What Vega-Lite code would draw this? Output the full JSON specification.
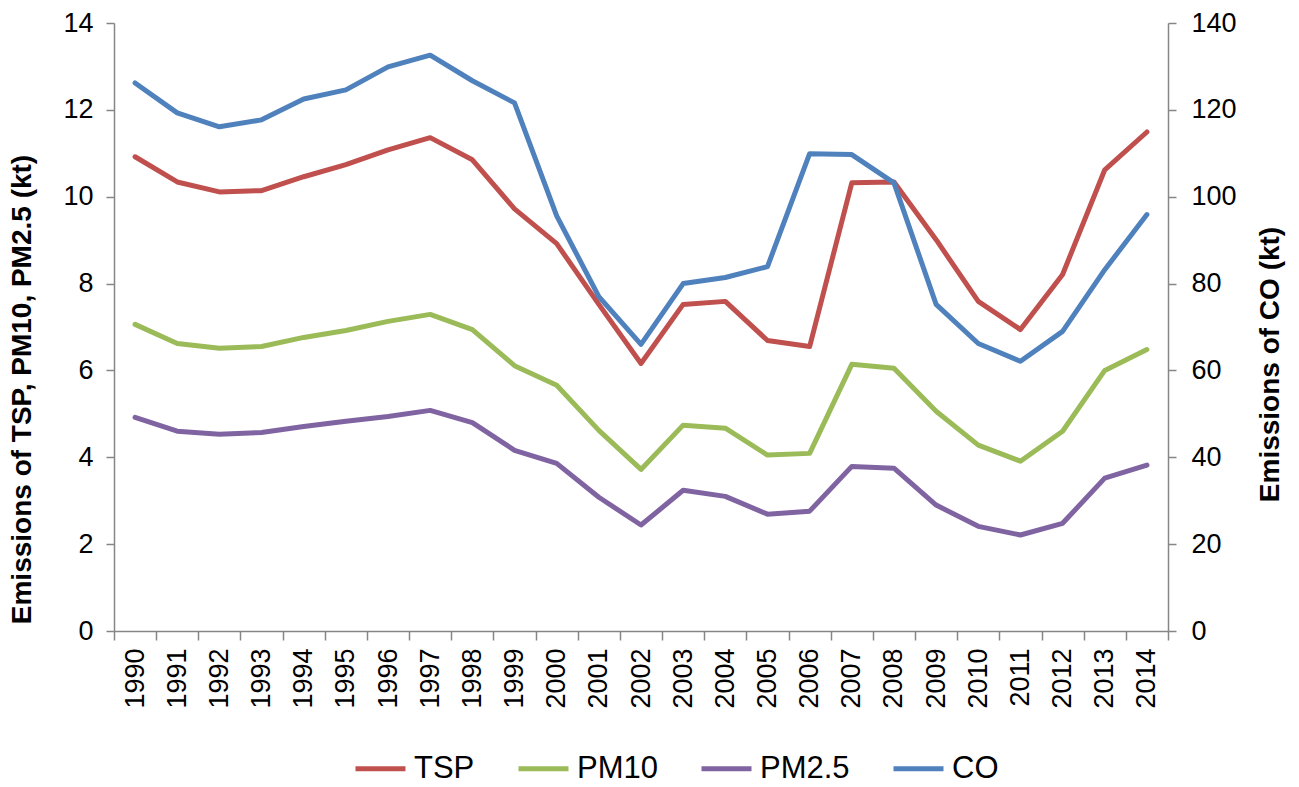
{
  "$schema": "https://vega.github.io/schema/vega-lite/v6.json",
  "width": 1054,
  "height": 608,
  "autosize": "none",
  "padding": {"left": 114, "top": 23, "right": 131, "bottom": 156},
  "config": {
    "font": "Liberation Sans",
    "view": {"stroke": null},
    "axis": {
      "domainColor": "#868686", "tickColor": "#868686", "domainWidth": 1.5, "tickWidth": 1.5,
      "labelColor": "#000000", "labelFont": "Liberation Sans", "labelFontSize": 27,
      "titleFont": "Liberation Sans", "titleFontSize": 28, "titleFontWeight": "bold", "titleColor": "#000000",
      "grid": false
    }
  },
  "data": {"values": [
    {"year":"1990","series":"TSP","value":10.92},{"year":"1991","series":"TSP","value":10.34},{"year":"1992","series":"TSP","value":10.11},{"year":"1993","series":"TSP","value":10.14},{"year":"1994","series":"TSP","value":10.46},{"year":"1995","series":"TSP","value":10.74},{"year":"1996","series":"TSP","value":11.08},{"year":"1997","series":"TSP","value":11.36},{"year":"1998","series":"TSP","value":10.85},{"year":"1999","series":"TSP","value":9.72},{"year":"2000","series":"TSP","value":8.92},{"year":"2001","series":"TSP","value":7.52},{"year":"2002","series":"TSP","value":6.16},{"year":"2003","series":"TSP","value":7.52},{"year":"2004","series":"TSP","value":7.59},{"year":"2005","series":"TSP","value":6.69},{"year":"2006","series":"TSP","value":6.55},{"year":"2007","series":"TSP","value":10.32},{"year":"2008","series":"TSP","value":10.34},{"year":"2009","series":"TSP","value":9.01},{"year":"2010","series":"TSP","value":7.59},{"year":"2011","series":"TSP","value":6.94},{"year":"2012","series":"TSP","value":8.21},{"year":"2013","series":"TSP","value":10.62},{"year":"2014","series":"TSP","value":11.49},
    {"year":"1990","series":"PM10","value":7.06},{"year":"1991","series":"PM10","value":6.62},{"year":"1992","series":"PM10","value":6.51},{"year":"1993","series":"PM10","value":6.55},{"year":"1994","series":"PM10","value":6.76},{"year":"1995","series":"PM10","value":6.92},{"year":"1996","series":"PM10","value":7.13},{"year":"1997","series":"PM10","value":7.29},{"year":"1998","series":"PM10","value":6.94},{"year":"1999","series":"PM10","value":6.11},{"year":"2000","series":"PM10","value":5.66},{"year":"2001","series":"PM10","value":4.62},{"year":"2002","series":"PM10","value":3.72},{"year":"2003","series":"PM10","value":4.74},{"year":"2004","series":"PM10","value":4.67},{"year":"2005","series":"PM10","value":4.05},{"year":"2006","series":"PM10","value":4.09},{"year":"2007","series":"PM10","value":6.14},{"year":"2008","series":"PM10","value":6.05},{"year":"2009","series":"PM10","value":5.06},{"year":"2010","series":"PM10","value":4.28},{"year":"2011","series":"PM10","value":3.91},{"year":"2012","series":"PM10","value":4.60},{"year":"2013","series":"PM10","value":6.00},{"year":"2014","series":"PM10","value":6.48},
    {"year":"1990","series":"PM2.5","value":4.92},{"year":"1991","series":"PM2.5","value":4.60},{"year":"1992","series":"PM2.5","value":4.53},{"year":"1993","series":"PM2.5","value":4.57},{"year":"1994","series":"PM2.5","value":4.71},{"year":"1995","series":"PM2.5","value":4.83},{"year":"1996","series":"PM2.5","value":4.94},{"year":"1997","series":"PM2.5","value":5.08},{"year":"1998","series":"PM2.5","value":4.80},{"year":"1999","series":"PM2.5","value":4.16},{"year":"2000","series":"PM2.5","value":3.86},{"year":"2001","series":"PM2.5","value":3.08},{"year":"2002","series":"PM2.5","value":2.44},{"year":"2003","series":"PM2.5","value":3.24},{"year":"2004","series":"PM2.5","value":3.10},{"year":"2005","series":"PM2.5","value":2.69},{"year":"2006","series":"PM2.5","value":2.76},{"year":"2007","series":"PM2.5","value":3.79},{"year":"2008","series":"PM2.5","value":3.75},{"year":"2009","series":"PM2.5","value":2.90},{"year":"2010","series":"PM2.5","value":2.41},{"year":"2011","series":"PM2.5","value":2.21},{"year":"2012","series":"PM2.5","value":2.48},{"year":"2013","series":"PM2.5","value":3.52},{"year":"2014","series":"PM2.5","value":3.82},
    {"year":"1990","series":"CO","value":126.2},{"year":"1991","series":"CO","value":119.3},{"year":"1992","series":"CO","value":116.1},{"year":"1993","series":"CO","value":117.7},{"year":"1994","series":"CO","value":122.5},{"year":"1995","series":"CO","value":124.6},{"year":"1996","series":"CO","value":129.9},{"year":"1997","series":"CO","value":132.6},{"year":"1998","series":"CO","value":126.7},{"year":"1999","series":"CO","value":121.6},{"year":"2000","series":"CO","value":95.6},{"year":"2001","series":"CO","value":77.0},{"year":"2002","series":"CO","value":66.0},{"year":"2003","series":"CO","value":80.0},{"year":"2004","series":"CO","value":81.4},{"year":"2005","series":"CO","value":83.9},{"year":"2006","series":"CO","value":109.9},{"year":"2007","series":"CO","value":109.7},{"year":"2008","series":"CO","value":103.2},{"year":"2009","series":"CO","value":75.2},{"year":"2010","series":"CO","value":66.2},{"year":"2011","series":"CO","value":62.1},{"year":"2012","series":"CO","value":69.0},{"year":"2013","series":"CO","value":83.2},{"year":"2014","series":"CO","value":95.9}
  ]},
  "layer": [
    {
      "transform": [{"filter": "datum.series !== 'CO'"}],
      "mark": {"type": "line", "strokeWidth": 5, "strokeJoin": "round", "strokeCap": "round"},
      "encoding": {
        "x": {"field": "year", "type": "ordinal", "scale": {"type": "band", "paddingInner": 0, "paddingOuter": 0},
          "axis": {"title": null, "labelAngle": -90, "tickBand": "extent", "tickSize": 9, "labelPadding": 8}},
        "y": {"field": "value", "type": "quantitative", "scale": {"domain": [0, 14], "nice": false},
          "axis": {"values": [0, 2, 4, 6, 8, 10, 12, 14], "title": "Emissions of TSP, PM10, PM2.5 (kt)", "tickSize": 8, "labelPadding": 13,
            "titleX": -92, "titleY": 366, "titleAngle": -90, "titleBaseline": "middle", "titleAlign": "center"}},
        "color": {"field": "series", "type": "nominal",
          "scale": {"domain": ["TSP", "PM10", "PM2.5", "CO"], "range": ["#C0504D", "#9BBB59", "#8064A2", "#4F81BD"]},
          "legend": {"title": null, "orient": "none", "legendX": 239, "legendY": 718, "direction": "horizontal",
            "symbolType": "stroke", "symbolSize": 2500, "symbolStrokeWidth": 5, "labelFontSize": 31, "labelOffset": 6,
            "columnPadding": 33, "labelFont": "Liberation Sans", "labelColor": "#000000", "padding": 0}}
      }
    },
    {
      "transform": [{"filter": "datum.series === 'CO'"}],
      "mark": {"type": "line", "strokeWidth": 5, "strokeJoin": "round", "strokeCap": "round"},
      "encoding": {
        "x": {"field": "year", "type": "ordinal"},
        "y": {"field": "value", "type": "quantitative", "scale": {"domain": [0, 140], "nice": false},
          "axis": {"orient": "right", "values": [0, 20, 40, 60, 80, 100, 120, 140], "title": "Emissions of CO (kt)", "tickSize": 8, "labelPadding": 15,
            "titleX": 102, "titleY": 341, "titleAngle": -90, "titleBaseline": "middle", "titleAlign": "center"}},
        "color": {"field": "series", "type": "nominal"}
      }
    }
  ],
  "resolve": {"scale": {"y": "independent"}}
}
